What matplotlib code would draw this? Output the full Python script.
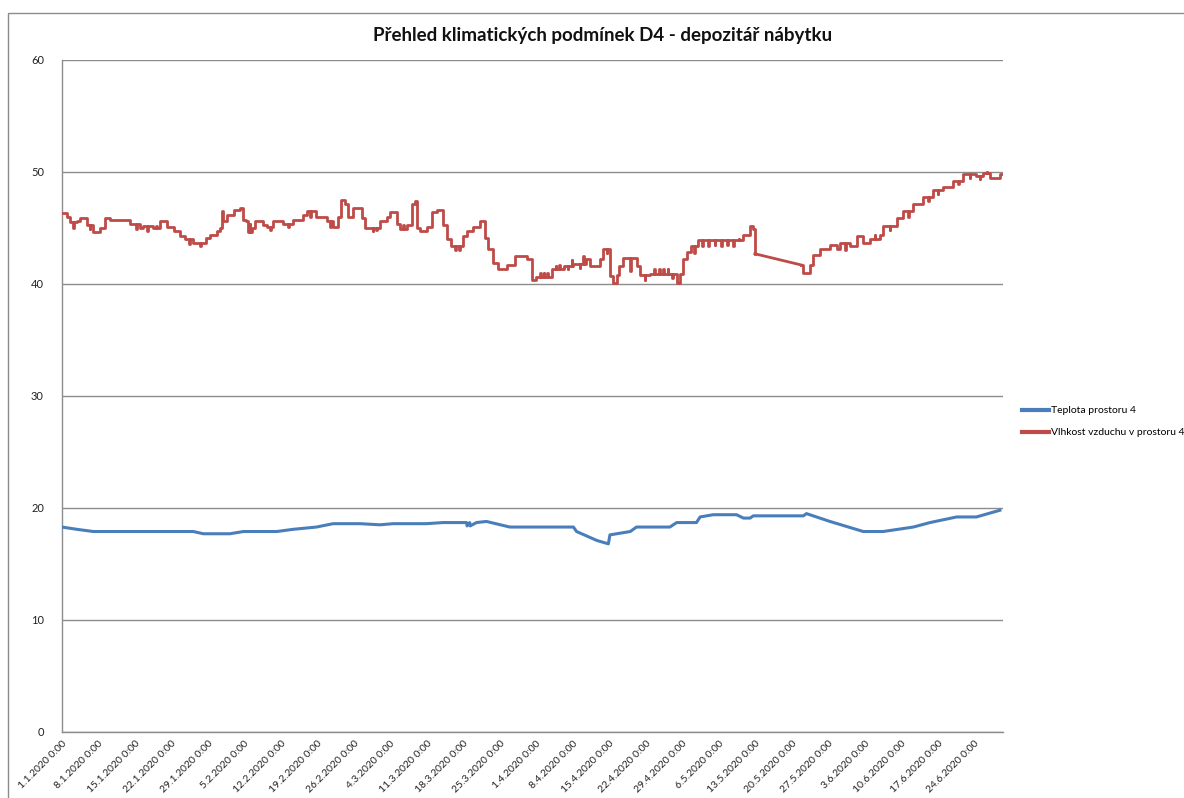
import matplotlib
matplotlib.use("Agg")
import matplotlib.pyplot as plt
from matplotlib.patches import Rectangle
import datetime as dt
import bisect

# ---- data (day offset from 1.1.2020, value) ----
title = "Přehled klimatických podmínek D4 - depozitář nábytku"
series_names = ["Teplota prostoru 4", "Vlhkost vzduchu v prostoru 4"]

temp_days = [0.0, 2.8, 6.0, 25.2, 27.1, 32.2, 34.8, 41.2, 44.4, 48.8, 52.0, 57.2,
             61.0, 63.5, 69.9, 73.1, 77.6, 77.7, 78.2, 78.3, 79.5, 81.4, 85.9, 91.7, 98.1, 98.7, 102.6,
             104.8, 105.1, 109.0, 110.2, 116.6, 117.9, 121.7, 122.4, 124.9, 129.4,
             130.7, 132.0, 132.6, 142.2, 142.8, 147.3, 153.7, 157.5, 163.3, 166.5,
             171.6, 175.4, 179.9]
temp_vals = [18.3, 18.1, 17.9, 17.9, 17.7, 17.7, 17.9, 17.9, 18.1, 18.3, 18.6, 18.6,
             18.5, 18.6, 18.6, 18.7, 18.7, 18.4, 18.7, 18.4, 18.7, 18.8, 18.3, 18.3, 18.3, 17.9, 17.1,
             16.8, 17.6, 17.9, 18.3, 18.3, 18.7, 18.7, 19.2, 19.4, 19.4,
             19.1, 19.1, 19.3, 19.3, 19.5, 18.8, 17.9, 17.9, 18.3, 18.7,
             19.2, 19.2, 19.8]

# humidity before the data gap in May
hum_days_a = [0.0, 0.9, 1.5, 2.8, 3.4, 4.7, 6.0, 7.3, 8.2, 9.2, 13.0, 15.0, 15.6,
              17.5, 18.8, 20.1, 21.4, 22.6, 23.6, 25.2, 27.7, 28.4, 29.7, 30.3,
              30.6, 30.9, 31.6, 32.9, 34.1, 34.8, 35.3, 35.7, 36.4, 37.0, 38.6,
              39.3, 40.5, 42.4, 44.4, 46.3, 46.9, 48.8, 50.8, 52.0, 53.0, 53.6,
              54.3, 54.9, 55.9, 57.5, 58.1, 61.0, 62.3, 62.9, 64.2, 64.8, 66.1,
              67.1, 67.7, 68.0, 68.7, 70.0, 70.9, 71.9, 73.1, 73.8, 74.7, 77.0,
              77.6, 78.9, 80.2, 81.1, 81.8, 82.7, 83.7, 85.3, 86.9, 89.1, 90.1,
              91.0, 93.9, 96.2, 98.1, 100.6, 101.3, 103.2, 103.8, 105.1, 105.7,
              106.4, 106.9, 107.7, 110.2, 110.9, 112.8, 117.9, 118.5, 119.2,
              119.8, 120.7, 122.0, 130.7, 131.9, 132.6, 132.9]
hum_vals_a = [46.3, 46.0, 45.5, 45.6, 45.9, 45.3, 44.6, 45.0, 45.9, 45.7, 45.4, 45.0, 45.2,
              45.0, 45.6, 45.1, 44.7, 44.3, 44.0, 43.7, 44.1, 44.4, 44.7, 45.0,
              46.5, 45.6, 46.2, 46.6, 46.8, 45.7, 45.6, 44.6, 45.0, 45.6, 45.3,
              45.1, 45.6, 45.4, 45.7, 46.2, 46.5, 46.0, 45.6, 45.1, 46.0, 47.5,
              47.1, 46.0, 46.8, 45.9, 45.0, 45.6, 46.0, 46.4, 45.4, 44.9, 45.3,
              47.1, 47.4, 45.0, 44.7, 45.1, 46.4, 46.6, 45.3, 44.0, 43.4, 44.3,
              44.7, 45.1, 45.6, 44.1, 43.1, 41.9, 41.3, 41.7, 42.5, 42.2, 40.4,
              40.6, 41.3, 41.6, 41.8, 42.2, 41.6, 42.2, 43.1, 40.7, 40.1,
              40.8, 41.6, 42.3, 41.6, 40.8, 40.9, 40.1, 40.9, 42.2,
              42.9, 43.4, 43.9, 44.4, 45.2, 44.9, 42.7]
# humidity after the data gap
hum_days_b = [141.8, 142.2, 143.4, 144.1, 145.4, 147.3, 148.6, 149.2, 151.1, 152.4,
              153.7, 154.9, 156.9, 157.5, 160.1, 161.3, 163.3, 165.2, 167.1, 169.0,
              170.9, 172.9, 175.4, 176.7, 178.0, 179.9, 180.5]
hum_vals_b = [41.7, 41.0, 41.7, 42.6, 43.1, 43.5, 43.1, 43.7, 43.4, 44.3,
              43.7, 44.0, 44.4, 45.2, 45.9, 46.5, 47.1, 47.8, 48.4, 48.7,
              49.2, 49.8, 49.6, 49.9, 49.5, 49.8, 49.8]
# short single readings (the small "+" marks of the humidity curve)
hum_spike_days = [2.1, 5.3, 14.2, 16.4, 18.1, 24.4, 26.5, 36.0, 39.9, 43.4, 47.6, 51.4,
                  59.6, 60.3, 65.4, 69.3, 75.4, 76.2, 84.5, 91.7, 92.4, 93.1, 94.7, 95.4,
                  97.0, 97.8, 99.3, 100.0, 104.5, 109.0, 111.8, 113.6, 114.5, 115.3,
                  116.2, 117.1, 121.3, 122.8, 124.0, 125.2, 126.4, 127.6, 128.8, 129.8,
                  146.2, 150.2, 155.9, 158.8, 162.3, 166.1, 168.0, 171.9, 174.1, 176.0,
                  177.4, 179.0]
hum_spike_vals = [45.0, 44.9, 44.9, 44.7, 45.2, 43.6, 43.4, 45.4, 44.8, 45.1, 46.0, 45.1,
                  44.7, 44.8, 45.3, 44.7, 43.0, 43.0, 41.3, 41.0, 41.0, 41.0, 41.6, 41.7,
                  41.3, 42.1, 41.4, 42.5, 42.8, 41.2, 40.4, 41.3, 41.3, 41.3,
                  41.3, 40.5, 42.8, 43.4, 43.4, 43.5, 43.4, 43.5, 43.4, 44.0,
                  43.1, 43.0, 44.4, 44.8, 46.0, 47.4, 48.0, 48.9, 49.5, 49.4,
                  50.0, 49.5]

start = dt.date(2020, 1, 1)
tick_days = list(range(0, 176, 7))
tick_labels = [f"{(start + dt.timedelta(days=d)).day}.{(start + dt.timedelta(days=d)).month}.2020 0:00"
               for d in tick_days]
y_ticks = [0, 10, 20, 30, 40, 50, 60]


def with_spikes(days, vals, sdays, svals, width=0.12):
    """Insert brief single readings into a step series."""
    d, v = list(days), list(vals)
    for sd, sv in zip(sdays, svals):
        if sd <= d[0] or sd >= d[-1]:
            continue
        i = bisect.bisect_right(d, sd)
        base = v[i - 1]
        d[i:i] = [sd, sd + width]
        v[i:i] = [sv, base]
    return d, v


hd_a, hv_a = with_spikes(hum_days_a, hum_vals_a, hum_spike_days, hum_spike_vals)
hd_b, hv_b = with_spikes(hum_days_b, hum_vals_b, hum_spike_days, hum_spike_vals)

# ---- figure ----
plt.rcParams['font.family'] = ['Lato', 'DejaVu Sans']
W, H = 1184, 798
fig = plt.figure(figsize=(W / 100, H / 100), dpi=100)
fig.patches.append(Rectangle((8 / W, -0.01), 1.1, 1 - 13 / H + 0.01, transform=fig.transFigure,
                             fill=False, edgecolor='#8c8c8c', linewidth=1.0, zorder=0))
ax = fig.add_axes([62 / W, 1 - 732 / H, (1003 - 62) / W, (732 - 60) / H])

blue = '#4A7EBB'
red = '#BE4B48'

ax.plot(temp_days, temp_vals, color=blue, linewidth=2.2, label=series_names[0], zorder=3)
ax.plot(hd_a, hv_a, drawstyle='steps-post', color=red, linewidth=2.0,
        label=series_names[1], zorder=3)
ax.plot([hd_a[-1], hd_b[0]], [hv_a[-1], hv_b[0]], color=red, linewidth=2.0, zorder=3)
ax.plot(hd_b, hv_b, drawstyle='steps-post', color=red, linewidth=2.0, zorder=3)

ax.set_xlim(0, 180.5)
ax.set_ylim(0, 60)
ax.set_yticks(y_ticks)
ax.set_yticklabels([str(v) for v in y_ticks], fontsize=8, color='#222222')
ax.set_xticks(tick_days)
ax.set_xticklabels(tick_labels, rotation=45, ha='right', va='top', rotation_mode='anchor',
                   fontsize=7.5, color='#222222')
ax.tick_params(axis='y', length=0, pad=13)
ax.tick_params(axis='x', length=0, pad=5)
ax.grid(axis='y', color='#8c8c8c', linewidth=1.0)
ax.set_axisbelow(True)
for s in ['top', 'right']:
    ax.spines[s].set_visible(False)
for s in ['left', 'bottom']:
    ax.spines[s].set_color('#8c8c8c')
    ax.spines[s].set_linewidth(1.0)

fig.text(603 / W, 1 - 35 / H, title, ha='center', va='center', fontsize=13.5,
         fontweight='bold', color='#111111')

leg = fig.legend(loc='upper left', bbox_to_anchor=(1018 / W, 1 - 402 / H), frameon=False,
                 fontsize=7.5, handlelength=2.6, handletextpad=0.2, labelspacing=1.2,
                 borderaxespad=0)
for h in leg.get_lines():
    h.set_linewidth(3)

fig.savefig('out.png', dpi=100)
